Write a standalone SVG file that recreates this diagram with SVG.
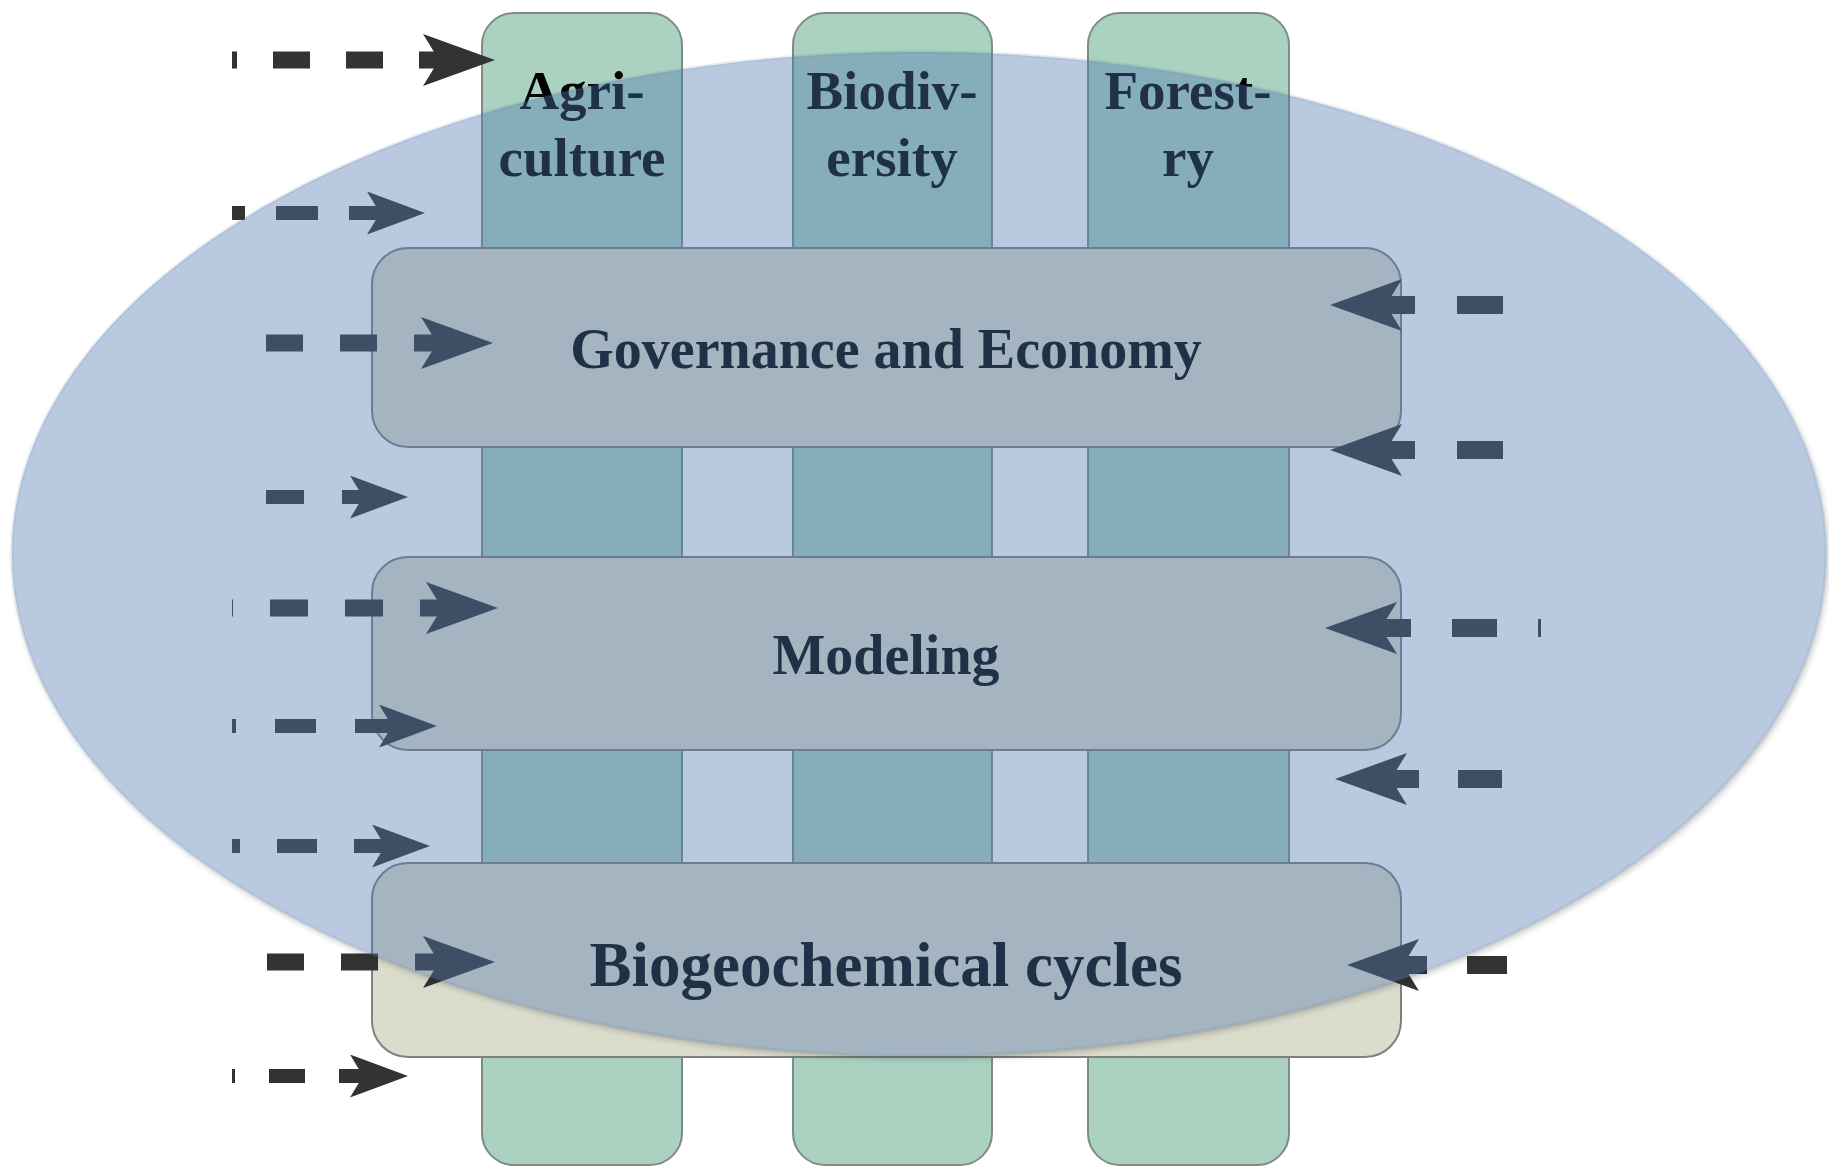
<svg xmlns="http://www.w3.org/2000/svg" width="1829" height="1167" viewBox="0 0 1829 1167">
<defs>
<style>
.col{fill:#abd1c1;stroke:#7d8c87;stroke-width:2}
.bar{fill:#dcdccd;stroke:#7f8080;stroke-width:2}
.lbl{font-family:"Liberation Serif","Times New Roman",serif;font-weight:bold;fill:#000;text-anchor:middle}
.arr{fill:none;stroke:#333;}
.big{stroke-width:17;marker-end:url(#headBig)}
.small{stroke-width:14;marker-end:url(#headSmall)}
.right{stroke-width:18;marker-end:url(#headBig)}
</style>
<marker id="headBig" markerUnits="userSpaceOnUse" viewBox="0 0 72 52" markerWidth="72" markerHeight="52" refX="16" refY="26" orient="auto">
<path d="M0,0 L72,26 L0,52 L16,26 Z" fill="#333"/>
</marker>
<marker id="headSmall" markerUnits="userSpaceOnUse" viewBox="0 0 58 43" markerWidth="58" markerHeight="43" refX="13" refY="21.5" orient="auto">
<path d="M0,0 L58,21.5 L0,43 L13,21.5 Z" fill="#333"/>
</marker>
<filter id="blur" x="-5%" y="-5%" width="110%" height="110%"><feGaussianBlur stdDeviation="3"/></filter>
<mask id="outside" maskUnits="userSpaceOnUse" x="0" y="0" width="1829" height="1167">
<rect x="0" y="0" width="1829" height="1167" fill="#fff"/>
<ellipse cx="919" cy="554" rx="907" ry="502" fill="#000"/>
</mask>
</defs>
<rect x="0" y="0" width="1829" height="1167" fill="#fff"/>

<g id="agriculture">
<rect class="col" x="482" y="13" width="200" height="1152" rx="32"/>
<text class="lbl" x="582" y="109" font-size="55">Agri-</text>
<text class="lbl" x="582" y="176" font-size="55">culture</text>
</g>
<g id="biodiversity">
<rect class="col" x="793" y="13" width="199" height="1152" rx="32"/>
<text class="lbl" x="892" y="109" font-size="55">Biodiv-</text>
<text class="lbl" x="892" y="176" font-size="55">ersity</text>
</g>
<g id="forestry">
<rect class="col" x="1088" y="13" width="201" height="1152" rx="32"/>
<text class="lbl" x="1188" y="109" font-size="55">Forest-</text>
<text class="lbl" x="1188" y="176" font-size="55">ry</text>
</g>

<g id="governance-economy">
<rect class="bar" x="372" y="248" width="1029" height="199" rx="36"/>
<text class="lbl" x="886" y="368" font-size="56">Governance and Economy</text>
</g>
<g id="modeling">
<rect class="bar" x="372" y="557" width="1029" height="193" rx="36"/>
<text class="lbl" x="886" y="674" font-size="56">Modeling</text>
</g>
<g id="biogeochemical-cycles">
<rect class="bar" x="372" y="863" width="1029" height="194" rx="36"/>
<text class="lbl" x="886" y="986" font-size="63">Biogeochemical cycles</text>
</g>

<g id="connectors">
<path class="arr big" d="M232,60 H439" stroke-dasharray="37 36" stroke-dashoffset="32"/>
<path class="arr small" d="M232,213 H380" stroke-dasharray="42 31" stroke-dashoffset="29"/>
<path class="arr big" d="M266,343 H437" stroke-dasharray="37 37"/>
<path class="arr small" d="M266,497 H363" stroke-dasharray="38 38"/>
<path class="arr big" d="M232,608 H442" stroke-dasharray="38 37" stroke-dashoffset="37"/>
<path class="arr small" d="M232,726 H392" stroke-dasharray="41 39" stroke-dashoffset="37"/>
<path class="arr small" d="M232,846 H385" stroke-dasharray="40 37" stroke-dashoffset="32"/>
<path class="arr big" d="M267,962 H439" stroke-dasharray="37 37"/>
<path class="arr small" d="M232,1076 H363" stroke-dasharray="36 34" stroke-dashoffset="33"/>
<path class="arr right" d="M1503,305 H1386" stroke-dasharray="46 42"/>
<path class="arr right" d="M1503,450 H1386" stroke-dasharray="46 42"/>
<path class="arr right" d="M1541,628 H1381" stroke-dasharray="45 41" stroke-dashoffset="42"/>
<path class="arr right" d="M1502,779 H1391" stroke-dasharray="44 39"/>
<path class="arr right" d="M1507,965 H1403" stroke-dasharray="40 40"/>
</g>

<g id="scope-ellipse">
<g mask="url(#outside)">
<ellipse cx="921" cy="557" rx="907" ry="502" fill="#000" opacity="0.22" filter="url(#blur)"/>
</g>
<ellipse cx="919" cy="554" rx="907" ry="502" fill="#4f78b0" fill-opacity="0.4" stroke="#4f78b0" stroke-opacity="0.12" stroke-width="3"/>
</g>
</svg>
